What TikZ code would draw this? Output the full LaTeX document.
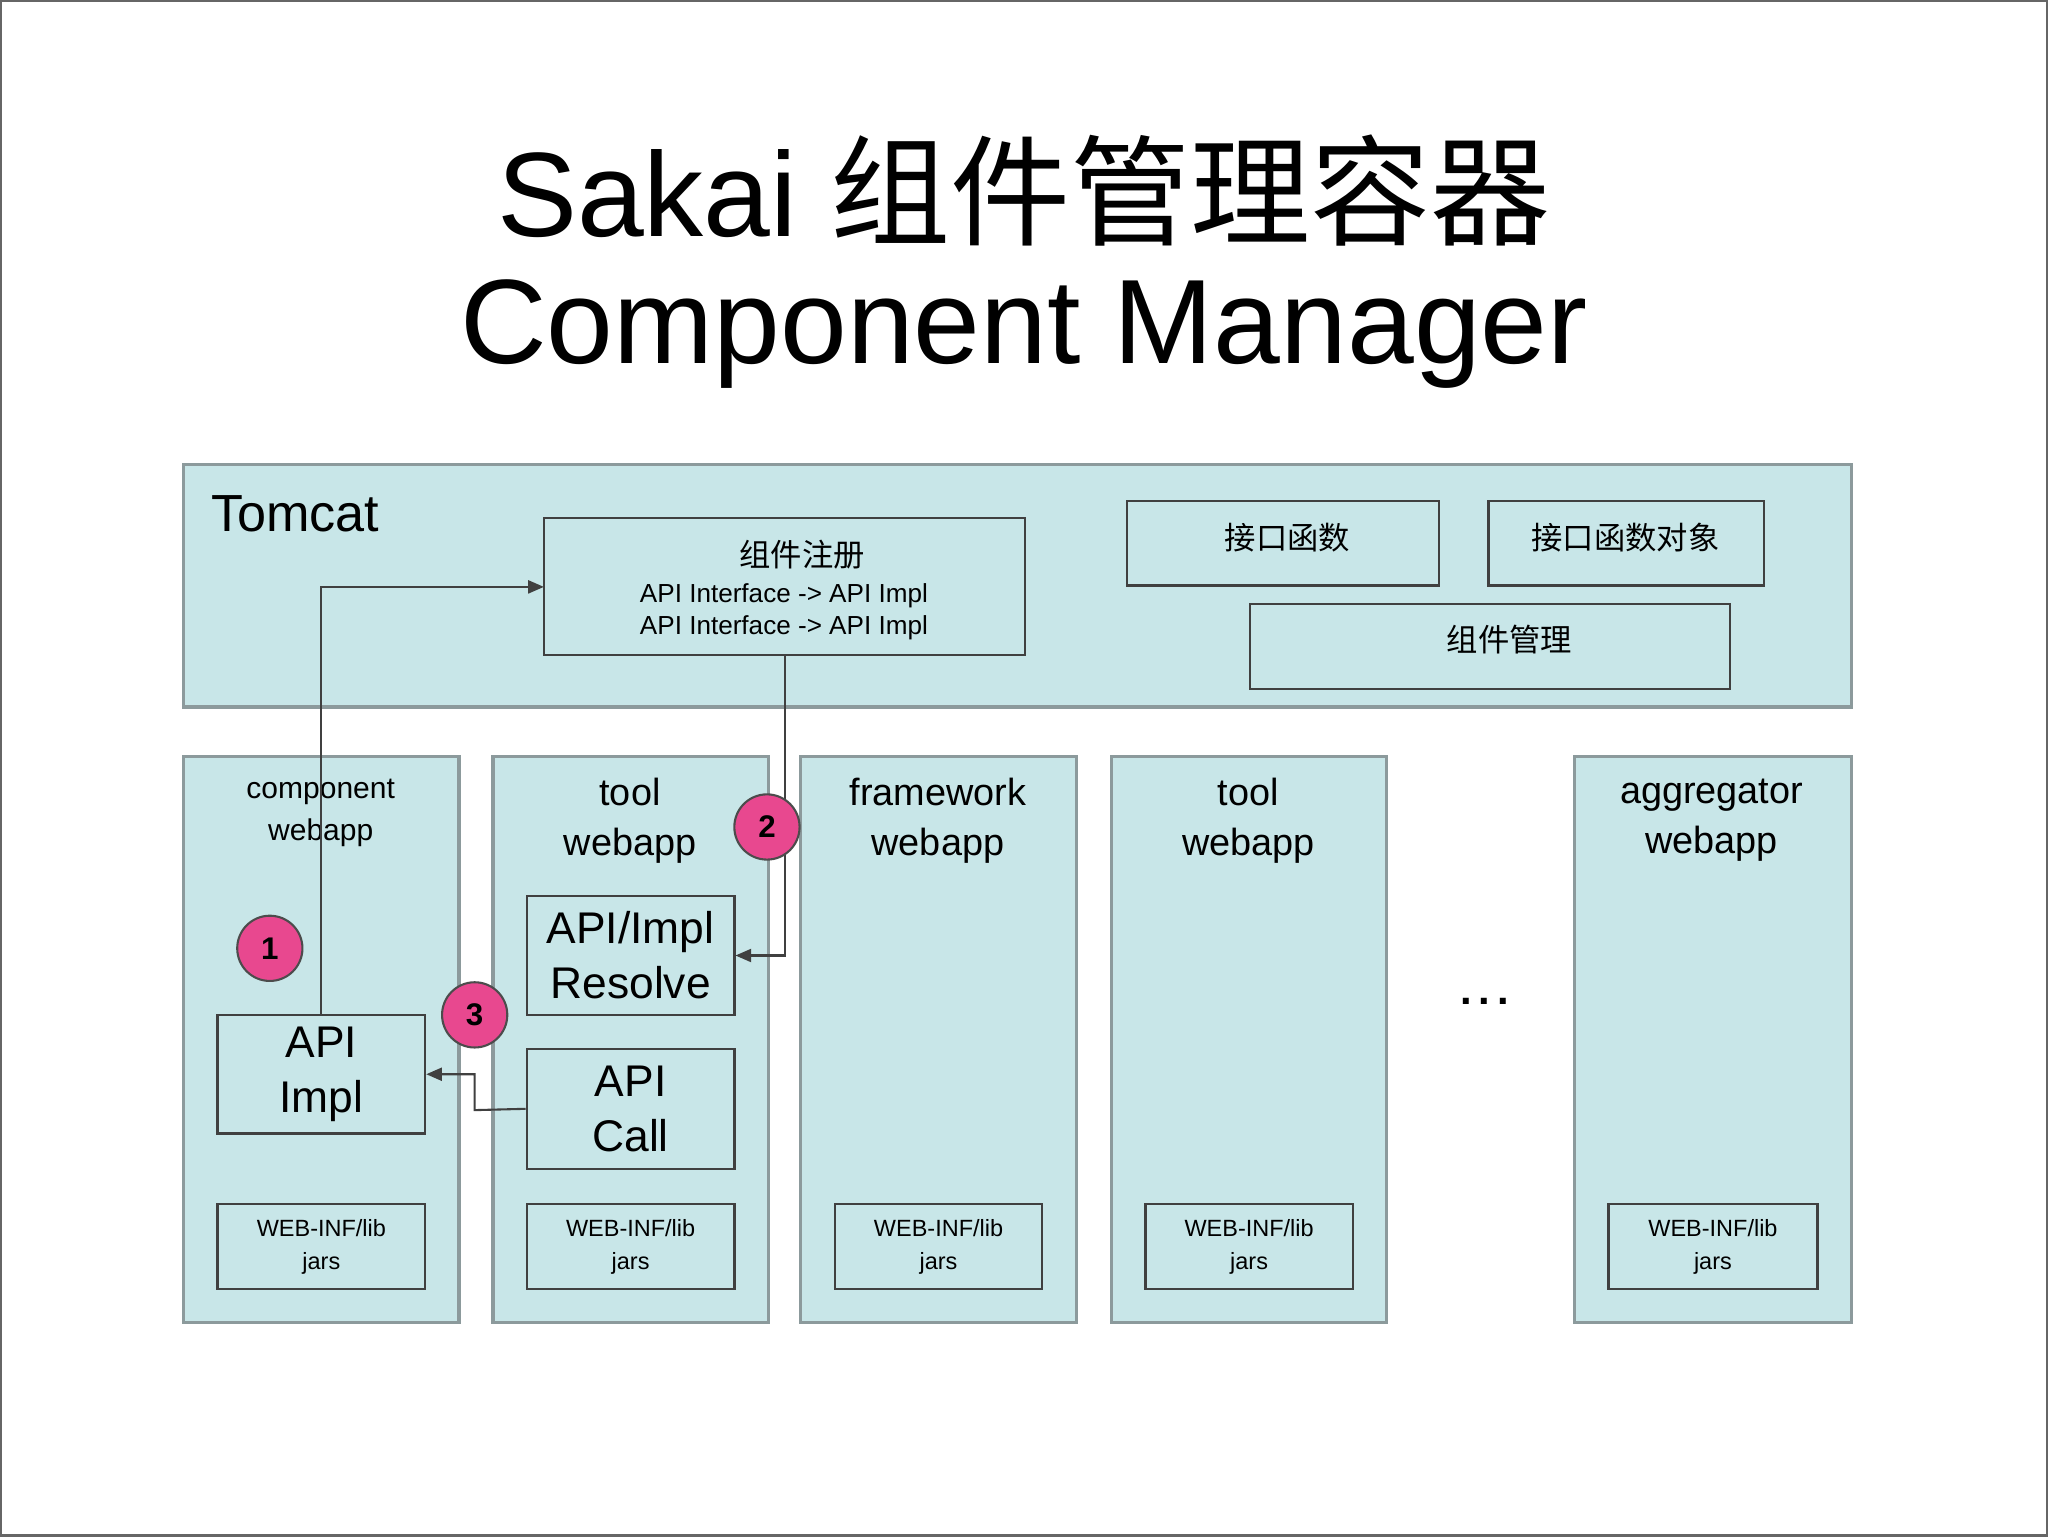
\documentclass[tikz,border=0pt]{standalone}
\usepackage{fontspec}
\setmainfont{Liberation Sans}
\newfontfamily\cjk{Noto Sans CJK SC}
\usetikzlibrary{arrows.meta}
\definecolor{boxfill}{HTML}{C8E6E8}
\definecolor{boxline}{HTML}{8C9A9C}
\definecolor{pinkc}{HTML}{E8488F}
\begin{document}
\begin{tikzpicture}[x=0.5pt,y=-0.5pt,
  panel/.style={draw=boxline,line width=1.2pt,fill=boxfill},
  inner/.style={draw=black!75,line width=0.9pt,fill=boxfill},
  num/.style={circle,fill=pinkc,draw=black!70,line width=0.8pt,minimum size=25pt,inner sep=0pt,font=\fontsize{12}{12}\selectfont\bfseries},
  conn/.style={draw=black!75,line width=0.8pt},
  arr/.style={conn,-{Triangle[length=6pt,width=5pt]}},
  coltitle/.style={align=center,font=\fontsize{14.5}{19}\selectfont},
  small/.style={align=center,font=\fontsize{9}{12.5}\selectfont},
  big/.style={inner,inner sep=0pt,align=center,font=\fontsize{17}{21}\selectfont}]
\path[use as bounding box,draw=black!60,line width=0.8pt,fill=white] (0,0) rectangle (1568,1176);
\node (t1) at (784,145) {\fontsize{46}{52}\selectfont Sakai {\cjk 组件管理容器}};
\node (t2) at (784,255) {\fontsize{46}{52}\selectfont Component Manager};
% Tomcat
\draw[panel] (140,355) rectangle (1418,541);
\node[anchor=west,font=\fontsize{20}{24}\selectfont] (tom) at (154,393) {Tomcat};
\draw[inner] (416,396) rectangle (785,501);
\node[font=\cjk\fontsize{12}{14}\selectfont] (regt) at (614,424) {组件注册};
\node[align=center,font=\fontsize{10}{12.5}\selectfont] (regl) at (600,468) {API Interface -> API Impl\\API Interface -> API Impl};
\draw[inner] (863,383) rectangle (1102,448);
\node[font=\cjk\fontsize{12}{14}\selectfont] (if1) at (986,411) {接口函数};
\draw[inner] (1140,383) rectangle (1351,448);
\node[font=\cjk\fontsize{12}{14}\selectfont] (if2) at (1245,411) {接口函数对象};
\draw[inner] (957,462) rectangle (1325,527);
\node[font=\cjk\fontsize{12}{14}\selectfont] (cm) at (1156,489) {组件管理};
% columns
\foreach \a/\b in {140/351,377/588,613/824,851/1062,1206/1418}{
  \draw[panel] (\a,579) rectangle (\b,1013);
  \draw[inner] (\a+26,922) rectangle (\b-26,987);
  \node[small] at ({(\a+\b)/2},955) {WEB-INF/lib\\jars};
}
\node[align=center,font=\fontsize{11.5}{16}\selectfont] (c1) at (245,622) {component\\webapp};
\node[coltitle] (c2) at (482,628) {tool\\webapp};
\node[coltitle] (c3) at (718,628) {framework\\webapp};
\node[coltitle] (c4) at (956,628) {tool\\webapp};
\node[coltitle] (c5) at (1311,628) {aggregator\\webapp};
\node[font=\fontsize{16}{16}\selectfont\bfseries] (dots) at (1137,767) {.\,.\,.};
% inner boxes
\node[big,minimum width=79.5pt,minimum height=45.5pt] (impl) at (245.5,822.5) {API\\Impl};
\node[big,minimum width=79.5pt,minimum height=45.5pt] (res) at (482.5,731.5) {API/Impl\\Resolve};
\node[big,minimum width=79.5pt,minimum height=46pt] (call) at (482.5,849) {API\\Call};
\coordinate (regbox) at (416,449);
\coordinate (regbot) at (601,501);
% connectors
\draw[arr] (impl.north) |- (regbox);
\draw[arr] (regbot) |- (res.east);
\coordinate (c3a) at (363,850);
\draw[arr] (call.west) -- (c3a) |- (impl.east);
% numbers
\node[num] (n1) at (206,726) {1};
\node[num] (n2) at (587,633) {2};
\node[num] (n3) at (363,777) {3};
\end{tikzpicture}
\end{document}
